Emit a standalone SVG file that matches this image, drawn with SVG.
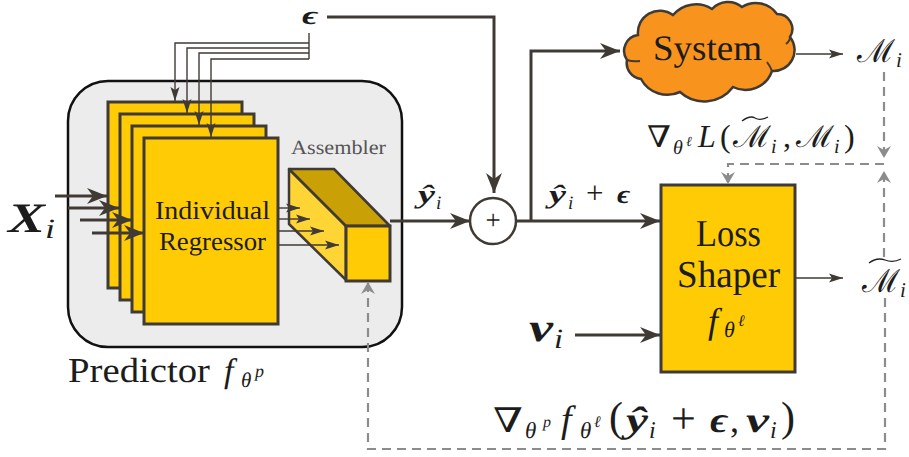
<svg xmlns="http://www.w3.org/2000/svg" width="909" height="457" viewBox="0 0 909 457">
<style>
text{text-rendering:geometricPrecision}
.t{font-family:"Liberation Serif","DejaVu Serif",serif;fill:#1c1c1c}
.i{font-style:italic}
.b{font-style:italic;font-weight:bold}
.box{fill:#FFCB05;stroke:#403A35;stroke-width:3}
.dk{fill:none;stroke:#403A35;stroke-width:3}
.th{fill:none;stroke:#403A35;stroke-width:1.400}
.da{fill:none;stroke:#8C8C8C;stroke-width:2.200;stroke-dasharray:9 6}
</style>
<defs>
<marker id="a" markerUnits="userSpaceOnUse" markerWidth="26" markerHeight="20" refX="20" refY="10" orient="auto"><path d="M0 2L20 10L0 18L6 10Z" fill="#403A35"/></marker>
<marker id="s" markerUnits="userSpaceOnUse" markerWidth="18" markerHeight="12" refX="14" refY="6" orient="auto"><path d="M0 1.500L14 6L0 10.500L3 6Z" fill="#403A35"/></marker>
<marker id="h" markerUnits="userSpaceOnUse" markerWidth="16" markerHeight="16" refX="13" refY="8" orient="auto"><path d="M1 1L13 8L1 15L5 8Z" fill="#8C8C8C"/></marker>
</defs>
<g id="predictor"><rect x="68" y="81" width="334" height="266" rx="40" fill="#ECECEC" stroke="#111" stroke-width="2.500"/>
<text class="t" font-size="35" x="68" y="382" fill="#333" textLength="142" lengthAdjust="spacingAndGlyphs">Predictor</text>
<text class="t i" font-size="34" x="224" y="382">f</text><text class="t i" font-size="21" x="241" y="387">θ</text><text class="t i" font-size="18" x="255" y="377">p</text></g>
<g id="regressor-1"><rect class="box" x="108" y="102" width="134" height="186"/></g>
<g id="regressor-2"><rect class="box" x="120" y="114" width="134" height="186"/></g>
<g id="regressor-3"><rect class="box" x="132" y="126" width="134" height="186"/></g>
<g id="regressor-4"><rect class="box" x="144" y="138" width="134" height="186"/>
<text class="t" font-size="26" x="155" y="219" textLength="115" lengthAdjust="spacingAndGlyphs">Individual</text>
<text class="t" font-size="26" x="159" y="250" textLength="107" lengthAdjust="spacingAndGlyphs">Regressor</text></g>
<g id="assembler"><path d="M289 169L346 226V280L289 224Z" fill="#FFD535" stroke="#403A35" stroke-width="2.500" stroke-linejoin="round"/>
<path d="M289 169H334L390 226H346Z" fill="#C9A005" stroke="#403A35" stroke-width="2.500" stroke-linejoin="round"/>
<rect class="box" x="346" y="226" width="44" height="55"/>
<text class="t" font-size="20" x="291" y="154" style="fill:#555" textLength="95" lengthAdjust="spacingAndGlyphs">Assembler</text></g>
<g id="sum"><circle cx="493" cy="221" r="23" fill="#fff" stroke="#403A35" stroke-width="2.500"/><text class="t" font-size="27" x="493" y="228.500" text-anchor="middle">+</text></g>
<g id="system"><path d="M638 35A22 22 0 0 1 673 15A30 30 0 0 1 712 9A22 22 0 0 1 742 7A26 26 0 0 1 777 14A15 15 0 0 1 790 37A21 21 0 0 1 772 71A28 28 0 0 1 733 87A36 36 0 0 1 680 92A30 30 0 0 1 641 79A16 16 0 0 1 627 60A16 16 0 0 1 638 35Z" fill="#F8931D" stroke="#403A35" stroke-width="2.500"/>
<path d="M627 60Q633 62 640 61M790 37Q790 41 786 44M772 71Q770 66 767 62" fill="none" stroke="#403A35" stroke-width="2"/>
<text class="t" font-size="36" x="653" y="60" textLength="109" lengthAdjust="spacingAndGlyphs">System</text></g>
<g id="loss-shaper"><rect class="box" x="661" y="185" width="134" height="187"/>
<text class="t" font-size="38" x="696" y="246" textLength="65" lengthAdjust="spacingAndGlyphs">Loss</text>
<text class="t" font-size="38" x="677" y="287" textLength="103" lengthAdjust="spacingAndGlyphs">Shaper</text>
<text class="t i" font-size="36" x="708" y="333">f</text><text class="t i" font-size="22" x="724" y="337">θ</text><text class="t i" font-size="16" x="738" y="326">ℓ</text></g>
<g id="connectors">
<path class="dk" d="M327 17H494V193" marker-end="url(#a)"/>
<path class="dk" d="M390 221H470" marker-end="url(#a)"/>
<path class="dk" d="M517 221H660" marker-end="url(#a)"/>
<path class="dk" d="M531 221V51H620" marker-end="url(#a)"/>
<path class="dk" d="M575 335H660" marker-end="url(#a)"/>
<path class="dk" d="M55 196H107" marker-end="url(#a)"/>
<path class="dk" d="M68 208H119" marker-end="url(#a)"/>
<path class="dk" d="M80 220H132" marker-end="url(#a)"/>
<path class="dk" d="M92 233H144" marker-end="url(#a)"/>
<path class="th" d="M309 33V59"/>
<path class="th" d="M309 43H175V101" marker-end="url(#s)"/>
<path class="th" d="M309 48H187V113" marker-end="url(#s)"/>
<path class="th" d="M309 53H199V125" marker-end="url(#s)"/>
<path class="th" d="M309 59H211V137" marker-end="url(#s)"/>
<path class="th" d="M278 208H300" marker-end="url(#s)"/>
<path class="th" d="M278 219H310" marker-end="url(#s)"/>
<path class="th" d="M278 231H324" marker-end="url(#s)"/>
<path class="th" d="M278 245H339" marker-end="url(#s)"/>
<path class="th" d="M796 54H843" marker-end="url(#s)"/>
<path class="th" d="M796 278H843" marker-end="url(#s)"/>
<path class="da" d="M884 72V158" marker-end="url(#h)"/>
<path class="da" d="M884 164H728V184" marker-end="url(#h)"/>
<path class="da" d="M884 257V171" marker-end="url(#h)"/>
<path class="da" d="M885 298V449H368V282" marker-end="url(#h)"/>
</g>
<g id="labels">
<text class="t b" font-size="26" x="302" y="24" textLength="16" lengthAdjust="spacingAndGlyphs">ϵ</text>
<text class="t b" font-size="42" x="8" y="232" textLength="37" lengthAdjust="spacingAndGlyphs">X</text><text class="t i" font-size="28" x="45" y="238" textLength="10" lengthAdjust="spacingAndGlyphs">i</text>
<text class="t b" font-size="26" x="418" y="203" textLength="17" lengthAdjust="spacingAndGlyphs">ŷ</text><text class="t i" font-size="19" x="436" y="209">i</text>
<text class="t b" font-size="26" x="549" y="203" textLength="17" lengthAdjust="spacingAndGlyphs">ŷ</text><text class="t i" font-size="19" x="568" y="209">i</text><text class="t" font-size="31" x="586" y="203">+</text><text class="t b" font-size="26" x="617" y="203" textLength="13" lengthAdjust="spacingAndGlyphs">ϵ</text>
<text class="t b" font-size="40" x="529" y="341" textLength="24" lengthAdjust="spacingAndGlyphs">v</text><text class="t i" font-size="28" x="554" y="348" textLength="9" lengthAdjust="spacingAndGlyphs">i</text>
<text class="t" font-size="32" x="857" y="62" textLength="38" lengthAdjust="spacingAndGlyphs">ℳ</text><text class="t i" font-size="21" x="896" y="67">i</text>
<text class="t" font-size="32" x="862" y="292" textLength="38" lengthAdjust="spacingAndGlyphs">ℳ</text><text class="t i" font-size="21" x="900" y="297">i</text>
<path d="M869 263Q877 257 885 260T901 259" fill="none" stroke="#222" stroke-width="1.300"/>
<text class="t" font-size="30" x="647" y="147" textLength="24" lengthAdjust="spacingAndGlyphs">∇</text><text class="t i" font-size="20" x="673" y="154">θ</text><text class="t i" font-size="14" x="686" y="146">ℓ</text><text class="t i" font-size="32" x="698" y="147">L</text><text class="t" font-size="32" x="720" y="147">(</text><text class="t" font-size="30" x="733" y="147" textLength="38" lengthAdjust="spacingAndGlyphs">ℳ</text><text class="t i" font-size="20" x="771" y="153">i</text><text class="t" font-size="32" x="783" y="147">,</text><text class="t" font-size="30" x="796" y="147" textLength="38" lengthAdjust="spacingAndGlyphs">ℳ</text><text class="t i" font-size="20" x="834" y="153">i</text><text class="t" font-size="32" x="844" y="147">)</text>
<path d="M742 121Q750 115 755 118T768 117" fill="none" stroke="#222" stroke-width="1.300"/>
<text class="t" font-size="34" x="493" y="432" textLength="30" lengthAdjust="spacingAndGlyphs">∇</text><text class="t i" font-size="23" x="525" y="438">θ</text><text class="t i" font-size="16" x="543" y="427">p</text><text class="t i" font-size="38" x="561" y="432">f</text><text class="t i" font-size="23" x="580" y="438">θ</text><text class="t i" font-size="16" x="594" y="427">ℓ</text><text class="t" font-size="42" x="609" y="431">(</text><text class="t b" font-size="36" x="626" y="432" textLength="22" lengthAdjust="spacingAndGlyphs">ŷ</text><text class="t i" font-size="24" x="649" y="438">i</text><text class="t" font-size="44" x="671" y="433">+</text><text class="t b" font-size="36" x="710" y="432" textLength="18" lengthAdjust="spacingAndGlyphs">ϵ</text><text class="t" font-size="36" x="730" y="432">,</text><text class="t b" font-size="36" x="746" y="432" textLength="23" lengthAdjust="spacingAndGlyphs">v</text><text class="t i" font-size="24" x="770" y="438">i</text><text class="t" font-size="42" x="781" y="431">)</text>
</g>
</svg>
